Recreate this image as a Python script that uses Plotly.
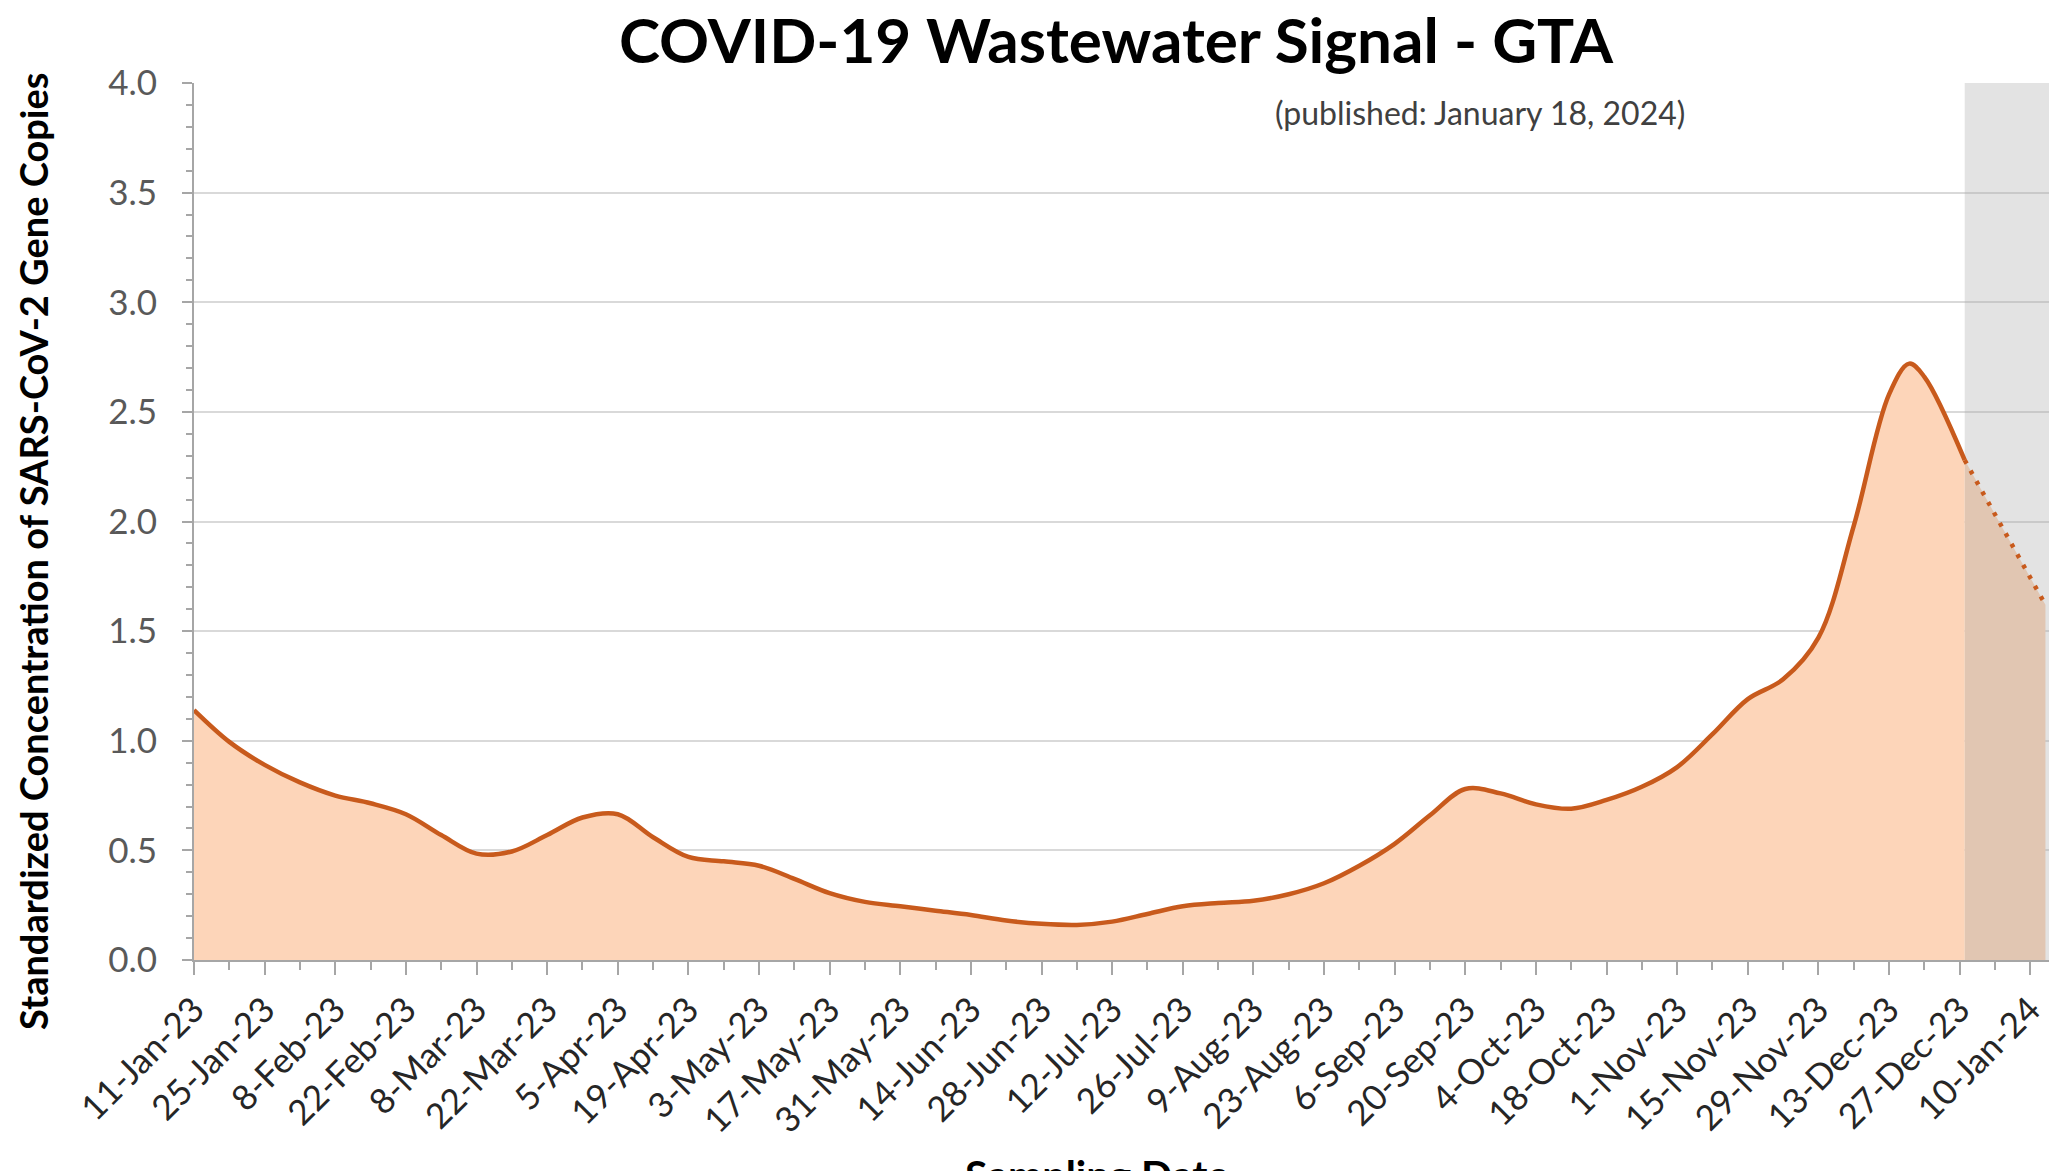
import pandas as pd
import plotly.graph_objects as go

# ---------------- data ----------------
title_text = "COVID-19 Wastewater Signal - GTA"
published_text = "(published: January 18, 2024)"
y_title_text = "Standardized Concentration of SARS-CoV-2 Gene Copies"
x_title_text = "Sampling Date"

sample_dates = [
    "2023-01-11", "2023-01-18", "2023-01-25", "2023-02-01", "2023-02-08",
    "2023-02-15", "2023-02-22", "2023-03-01", "2023-03-08", "2023-03-15",
    "2023-03-22", "2023-03-29", "2023-04-05", "2023-04-12", "2023-04-19",
    "2023-04-26", "2023-05-03", "2023-05-10", "2023-05-17", "2023-05-24",
    "2023-05-31", "2023-06-07", "2023-06-14", "2023-06-21", "2023-06-28",
    "2023-07-05", "2023-07-12", "2023-07-19", "2023-07-26", "2023-08-02",
    "2023-08-09", "2023-08-16", "2023-08-23", "2023-08-30", "2023-09-06",
    "2023-09-13", "2023-09-20", "2023-09-27", "2023-10-04", "2023-10-11",
    "2023-10-18", "2023-10-25", "2023-11-01", "2023-11-08", "2023-11-15",
    "2023-11-22", "2023-11-29", "2023-12-06", "2023-12-13", "2023-12-17",
    "2023-12-20", "2023-12-28",
]
signal_values = [
    1.14, 0.995, 0.89, 0.81, 0.75,
    0.715, 0.665, 0.57, 0.485, 0.495,
    0.57, 0.65, 0.665, 0.56, 0.47,
    0.45, 0.43, 0.37, 0.305, 0.265,
    0.245, 0.225, 0.205, 0.18, 0.165,
    0.16, 0.175, 0.21, 0.245, 0.26,
    0.27, 0.30, 0.35, 0.43, 0.53,
    0.66, 0.78, 0.76, 0.71, 0.69,
    0.73, 0.79, 0.88, 1.03, 1.19,
    1.28, 1.47, 1.98, 2.58, 2.72,
    2.66, 2.28,
]

# projected (dotted) part
projection_dates = ["2023-12-28", "2024-01-13"]
projection_values = [2.28, 1.62]

# shaded period (incomplete data)
shade_dates = ["2023-12-28", "2024-01-25"]
shade_values = [0.0, 4.0]

x_tick_labels = [
    "11-Jan-23", "25-Jan-23", "8-Feb-23", "22-Feb-23", "8-Mar-23", "22-Mar-23",
    "5-Apr-23", "19-Apr-23", "3-May-23", "17-May-23", "31-May-23", "14-Jun-23",
    "28-Jun-23", "12-Jul-23", "26-Jul-23", "9-Aug-23", "23-Aug-23", "6-Sep-23",
    "20-Sep-23", "4-Oct-23", "18-Oct-23", "1-Nov-23", "15-Nov-23", "29-Nov-23",
    "13-Dec-23", "27-Dec-23", "10-Jan-24",
]
y_tick_values = [0.0, 0.5, 1.0, 1.5, 2.0, 2.5, 3.0, 3.5, 4.0]
x_range = ["2023-01-11", "2024-01-15 07:00"]

# ---------------- styles ----------------
LINE = "#C85A1C"
FILL = "#FDD5B9"
SHADE = "rgba(165,165,165,0.31)"
AXIS = "#A6A6A6"
GRID = "#D9D9D9"
FONT = "Lato"

tick_dates = pd.to_datetime(x_tick_labels, format="%d-%b-%y")

fig = go.Figure()

# filled areas
fig.add_trace(go.Scatter(
    x=sample_dates, y=signal_values, mode="lines",
    line=dict(width=0, shape="spline", color=FILL),
    fill="tozeroy", fillcolor=FILL, hoverinfo="skip"))
fig.add_trace(go.Scatter(
    x=projection_dates, y=projection_values, mode="lines",
    line=dict(width=0, color=FILL),
    fill="tozeroy", fillcolor=FILL, hoverinfo="skip"))

# shaded period overlay
fig.add_trace(go.Scatter(
    x=[shade_dates[0], shade_dates[1], shade_dates[1], shade_dates[0], shade_dates[0]],
    y=[shade_values[0], shade_values[0], shade_values[1], shade_values[1], shade_values[0]],
    mode="lines", line=dict(width=0), fill="toself", fillcolor=SHADE,
    hoverinfo="skip"))

# lines
fig.add_trace(go.Scatter(
    x=sample_dates, y=signal_values, mode="lines",
    line=dict(width=4.5, shape="spline", color=LINE)))
fig.add_trace(go.Scatter(
    x=projection_dates, y=projection_values, mode="lines",
    line=dict(width=4.5, color=LINE, dash="4px,8px")))

# page body adds an 8px offset, so the figure is laid out 8px up/left
fig.update_layout(
    width=2049, height=1163,
    margin=dict(l=186, r=0, t=75, b=211),
    plot_bgcolor="white", paper_bgcolor="white",
    showlegend=False,
    font=dict(family=FONT, color="#404040"),
)

fig.update_xaxes(
    type="date", range=x_range, automargin=False,
    tickmode="array", tickvals=tick_dates, ticktext=x_tick_labels,
    tickangle=-45, tickfont=dict(family=FONT, size=35, color="#262626"),
    ticks="outside", ticklen=13, tickwidth=2, tickcolor=AXIS,
    showline=True, linecolor=AXIS, linewidth=2,
    showgrid=False, zeroline=False,
    minor=dict(ticks="outside", ticklen=8, tickwidth=2, tickcolor=AXIS,
               tickmode="linear", tick0="2023-01-11", dtick=7 * 86400000,
               showgrid=False),
)

fig.update_yaxes(
    range=[0, 4], automargin=False,
    tickmode="array", tickvals=y_tick_values,
    ticktext=[f"{v:.1f}" for v in y_tick_values],
    tickfont=dict(family=FONT, size=35, color="#595959"),
    ticks="outside", ticklen=10, tickwidth=2, tickcolor=AXIS,
    ticklabelstandoff=18,
    showline=True, linecolor=AXIS, linewidth=2,
    showgrid=True, gridcolor=GRID, gridwidth=2, zeroline=False,
    minor=dict(ticks="outside", ticklen=6, tickwidth=2, tickcolor=AXIS,
               tickmode="linear", tick0=0, dtick=0.1, showgrid=False),
)

fig.add_annotation(
    text=title_text, xref="paper", yref="paper", x=0.4954, y=1.0946,
    xanchor="center", yanchor="top", showarrow=False,
    font=dict(family=FONT, size=62, color="#000000", weight="bold"))
fig.add_annotation(
    text=published_text, xref="paper", yref="paper", x=0.6903, y=0.9658,
    xanchor="center", yanchor="middle", showarrow=False,
    font=dict(family=FONT, size=32, color="#404040"))
fig.add_annotation(
    text=y_title_text, xref="paper", yref="paper", x=-0.0864, y=0.4664,
    xanchor="center", yanchor="middle", textangle=-90, showarrow=False,
    font=dict(family=FONT, size=38, color="#000000", weight="bold"))
fig.add_annotation(
    text=x_title_text, xref="paper", yref="paper", x=0.4847, y=-0.2144,
    xanchor="center", yanchor="top", showarrow=False,
    font=dict(family=FONT, size=41, color="#000000", weight="bold"))

fig.write_html("out.html")
